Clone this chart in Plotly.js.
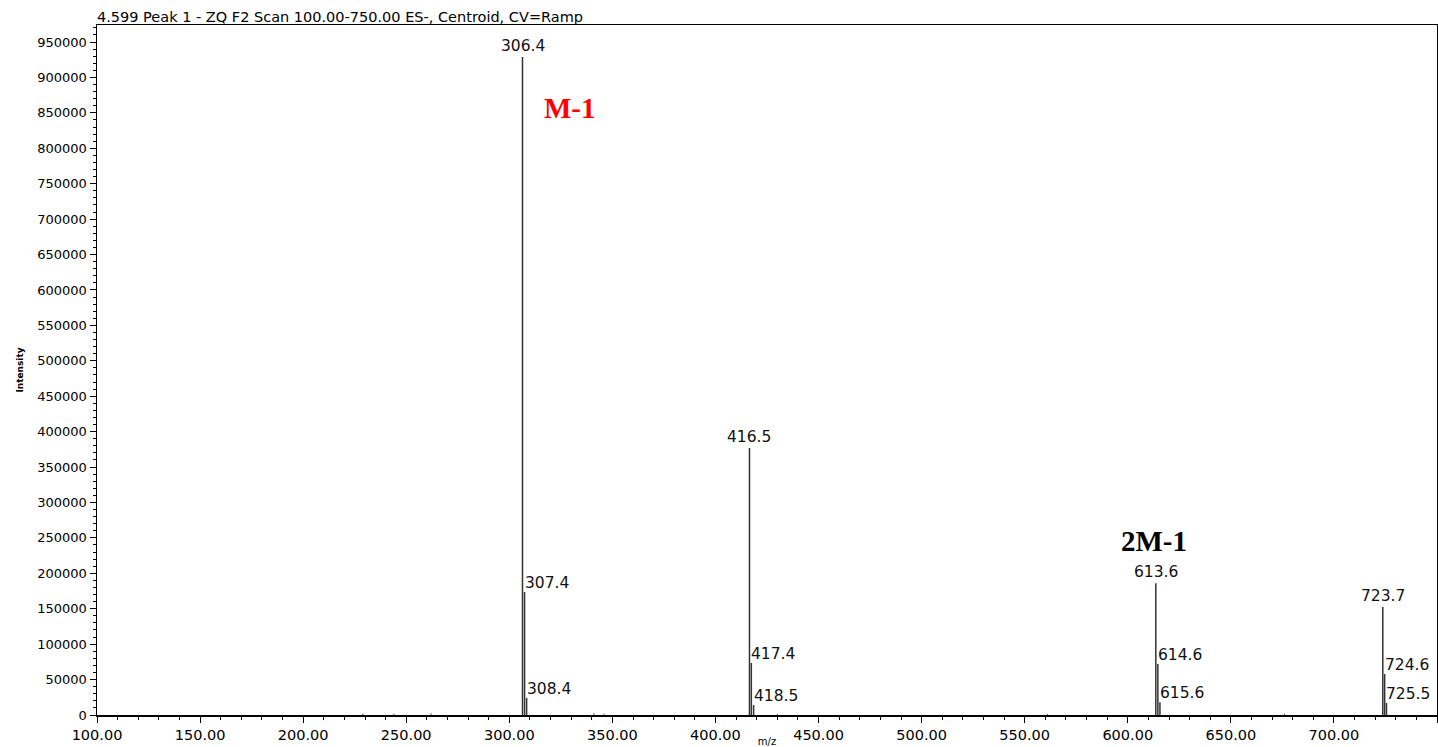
<!DOCTYPE html>
<html>
<head>
<meta charset="utf-8">
<script src="https://cdn.plot.ly/plotly-3.0.1.min.js"></script>
<style>html,body{margin:0;padding:0;background:#fff;}#chart{width:1438px;height:747px;}</style>
</head>
<body>
<div id="chart"></div>
<script>
// Labelled peaks (m/z, intensity)
const peakMz = [306.4, 307.4, 308.4, 416.5, 417.4, 418.5, 613.6, 614.6, 615.6, 723.7, 724.6, 725.5];
const peakIntensity = [929000, 173500, 24000, 377000, 73500, 14000, 186000, 72000, 18000, 152500, 58000, 17000];
const peakLabels = ["306.4", "307.4", "308.4", "416.5", "417.4", "418.5", "613.6", "614.6", "615.6", "723.7", "724.6", "725.5"];
// Small unlabelled baseline signals
const noiseMz = [229.0, 244.0, 262.0, 341.0, 346.0, 430.0, 561.0, 676.0];
const noiseIntensity = [2000, 1800, 2200, 2500, 1800, 1500, 1500, 1800];
// Ion annotations
const ionNames = ["M-1", "2M-1"];
const ionMz = [329.5, 612.5];
const ionY = [857000, 246000];

const titleText = "4.599 Peak 1 - ZQ F2 Scan 100.00-750.00 ES-, Centroid, CV=Ramp";

function sticks(xs, ys) {
  const x = [], y = [];
  xs.forEach((m, i) => { x.push(m, m, null); y.push(0, ys[i], null); });
  return {x, y};
}
const s1 = sticks(peakMz, peakIntensity);
const s2 = sticks(noiseMz, noiseIntensity);

const traces = [
  {x: s2.x, y: s2.y, type: 'scatter', mode: 'lines', line: {color: '#444', width: 1}, hoverinfo: 'skip'},
  {x: s1.x, y: s1.y, type: 'scatter', mode: 'lines', line: {color: '#333', width: 1.5}, hoverinfo: 'skip'}
];

const annotations = peakMz.map((m, i) => {
  const first = (i === 0) || (m - peakMz[i - 1] > 1.6);
  return {
    x: m, y: peakIntensity[i], xref: 'x', yref: 'y',
    text: peakLabels[i], showarrow: false,
    xanchor: first ? 'center' : 'left', yanchor: 'bottom',
    xshift: first ? 0 : -2, yshift: first ? 0 : -2,
    font: {family: 'DejaVu Sans', size: 15.5, color: '#111'}
  };
});
ionNames.forEach((n, i) => {
  annotations.push({
    x: ionMz[i], y: ionY[i], xref: 'x', yref: 'y', text: '<b>' + n + '</b>', showarrow: false,
    xanchor: 'center', yanchor: 'middle',
    font: {family: 'Liberation Serif', size: 29, color: i === 0 ? '#ff0000' : '#000000'}
  });
});

const layout = {
  width: 1438, height: 747,
  margin: {l: 97, r: 1, t: 25, b: 32},
  paper_bgcolor: '#fff', plot_bgcolor: '#fff',
  showlegend: false,
  font: {family: 'DejaVu Sans', color: '#000'},
  title: {text: titleText, x: 97 / 1438, xanchor: 'left', y: 1 - 17 / 747, yanchor: 'middle',
          font: {family: 'DejaVu Sans', size: 14.5, color: '#000'}},
  xaxis: {
    range: [100, 750], tickmode: 'linear', tick0: 100, dtick: 50, tickformat: '.2f',
    ticks: 'outside', ticklen: 6, tickcolor: '#000', tickwidth: 1,
    minor: {dtick: 10, ticks: 'outside', ticklen: 3, tickcolor: '#000'},
    showline: true, linecolor: '#000', linewidth: 1.5, mirror: true,
    showgrid: false, zeroline: false,
    tickfont: {family: 'DejaVu Sans', size: 14.5, color: '#000'},
    title: {text: 'm/z', font: {family: 'DejaVu Sans', size: 10}, standoff: 2}
  },
  yaxis: {
    range: [0, 974000], tickmode: 'linear', tick0: 0, dtick: 50000, tickformat: 'd',
    ticks: 'outside', ticklen: 6, tickcolor: '#000', tickwidth: 1,
    minor: {dtick: 10000, ticks: 'outside', ticklen: 3, tickcolor: '#000'},
    showline: true, linecolor: '#000', linewidth: 1.5, mirror: true,
    showgrid: false, zeroline: false,
    tickfont: {family: 'DejaVu Sans', size: 13, color: '#000'},
    title: {text: '<b>Intensity</b>', font: {family: 'DejaVu Sans', size: 9}, standoff: 12}
  },
  annotations: annotations
};

Plotly.newPlot('chart', traces, layout, {staticPlot: true, displayModeBar: false});
</script>
</body>
</html>
